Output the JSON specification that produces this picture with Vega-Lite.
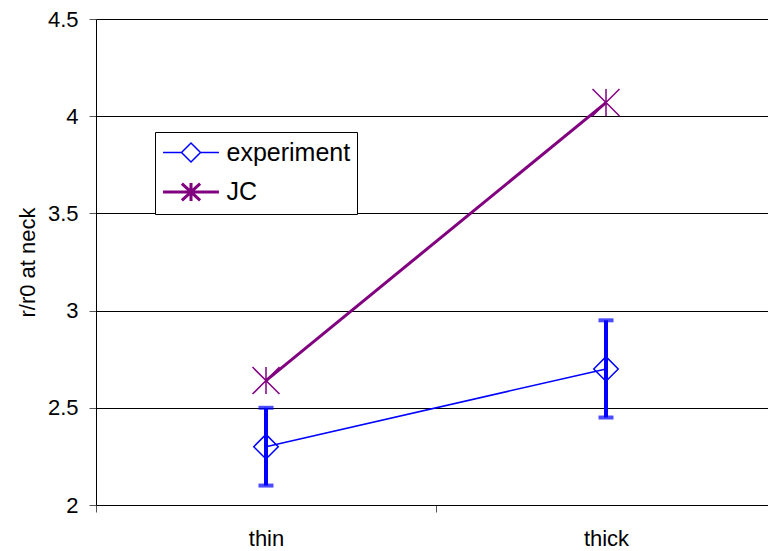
{
  "$schema": "https://vega.github.io/schema/vega-lite/v6.json",
  "autosize": {"type": "none"},
  "width": 672,
  "height": 486,
  "padding": {"left": 96, "top": 19, "right": 0, "bottom": 46},
  "background": "white",
  "config": {
    "view": {"stroke": null},
    "font": "Liberation Sans",
    "axis": {
      "labelFont": "Liberation Sans",
      "titleFont": "Liberation Sans",
      "labelFontSize": 22,
      "titleFontSize": 22,
      "labelColor": "black",
      "titleColor": "black",
      "titleFontWeight": "normal",
      "domainColor": "black",
      "domainWidth": 1,
      "tickColor": "#555555",
      "tickWidth": 1,
      "tickSize": 7,
      "gridColor": "black",
      "gridWidth": 1,
      "gridOpacity": 1
    },
    "legend": {
      "orient": "none",
      "legendX": 59,
      "legendY": 113,
      "padding": 6.5,
      "strokeColor": "black",
      "fillColor": "white",
      "labelFont": "Liberation Sans",
      "labelFontSize": 25,
      "labelColor": "black",
      "labelLimit": 300,
      "symbolSize": 676,
      "symbolOffset": 15,
      "labelOffset": 21,
      "rowPadding": 11,
      "symbolFillColor": "transparent",
      "symbolOpacity": 1
    }
  },
  "data": {
    "values": [
      {"thickness": "thin", "series": "experiment", "r": 2.30, "lo": 2.10, "hi": 2.50},
      {"thickness": "thick", "series": "experiment", "r": 2.70, "lo": 2.45, "hi": 2.95},
      {"thickness": "thin", "series": "JC", "r": 2.64},
      {"thickness": "thick", "series": "JC", "r": 4.07}
    ]
  },
  "encoding": {
    "x": {
      "field": "thickness",
      "type": "nominal",
      "sort": ["thin", "thick"],
      "scale": {"type": "band", "paddingInner": 0, "paddingOuter": 0, "range": [0, 680]},
      "axis": {"title": null, "labelAngle": 0, "tickBand": "extent", "labelPadding": 16, "grid": false}
    },
    "y": {
      "field": "r",
      "type": "quantitative",
      "scale": {"domain": [2, 4.5], "nice": false, "zero": false},
      "axis": {"title": "r/r0 at neck", "values": [2, 2.5, 3, 3.5, 4, 4.5], "format": "~g", "labelPadding": 11, "titlePadding": 8, "grid": true}
    }
  },
  "layer": [
    {
      "transform": [{"filter": "datum.series === 'JC'"}],
      "mark": {"type": "line", "color": "#800080", "strokeWidth": 3}
    },
    {
      "transform": [{"filter": "datum.series === 'experiment'"}],
      "mark": {"type": "line", "color": "#0000FF", "strokeWidth": 1.5}
    },
    {
      "transform": [{"filter": "datum.series === 'experiment'"}],
      "mark": {"type": "rule", "color": "#0000FF", "strokeWidth": 4},
      "encoding": {"y": {"field": "lo", "type": "quantitative"}, "y2": {"field": "hi"}}
    },
    {
      "transform": [{"filter": "datum.series === 'experiment'"}],
      "mark": {"type": "tick", "color": "#0000FF", "thickness": 4, "size": 15, "orient": "horizontal"},
      "encoding": {"y": {"field": "lo", "type": "quantitative"}}
    },
    {
      "transform": [{"filter": "datum.series === 'experiment'"}],
      "mark": {"type": "tick", "color": "#0000FF", "thickness": 4, "size": 15, "orient": "horizontal"},
      "encoding": {"y": {"field": "hi", "type": "quantitative"}}
    },
    {
      "transform": [{"filter": "datum.series === 'experiment'"}],
      "mark": {"type": "point", "shape": "diamond", "size": 600, "filled": false, "color": "#0000FF", "strokeWidth": 1.5, "opacity": 1}
    },
    {
      "transform": [{"filter": "datum.series === 'JC'"}],
      "mark": {"type": "point", "shape": "M-1,-1L1,1M-1,1L1,-1M0,-1L0,1", "size": 729, "filled": false, "color": "#800080", "strokeWidth": 1.5, "opacity": 1}
    },
    {
      "mark": {"type": "point", "filled": false, "opacity": 0},
      "encoding": {
        "color": {
          "field": "series",
          "type": "nominal",
          "scale": {"domain": ["experiment", "JC"], "range": ["#0000FF", "#800080"]},
          "legend": {"title": null}
        },
        "shape": {
          "field": "series",
          "type": "nominal",
          "scale": {"domain": ["experiment", "JC"], "range": ["M-2.15,0L-0.73,0M0.73,0L2.15,0M-0.73,0L0,-0.73L0.73,0L0,0.73Z", "M-2.15,0L2.15,0M-0.7,-0.65L0.7,0.65M-0.7,0.65L0.7,-0.65M0,-0.7L0,0.7"]},
          "legend": {"title": null}
        },
        "strokeWidth": {
          "field": "series",
          "type": "nominal",
          "scale": {"domain": ["experiment", "JC"], "range": [1.5, 3]},
          "legend": {"title": null}
        }
      }
    }
  ]
}
